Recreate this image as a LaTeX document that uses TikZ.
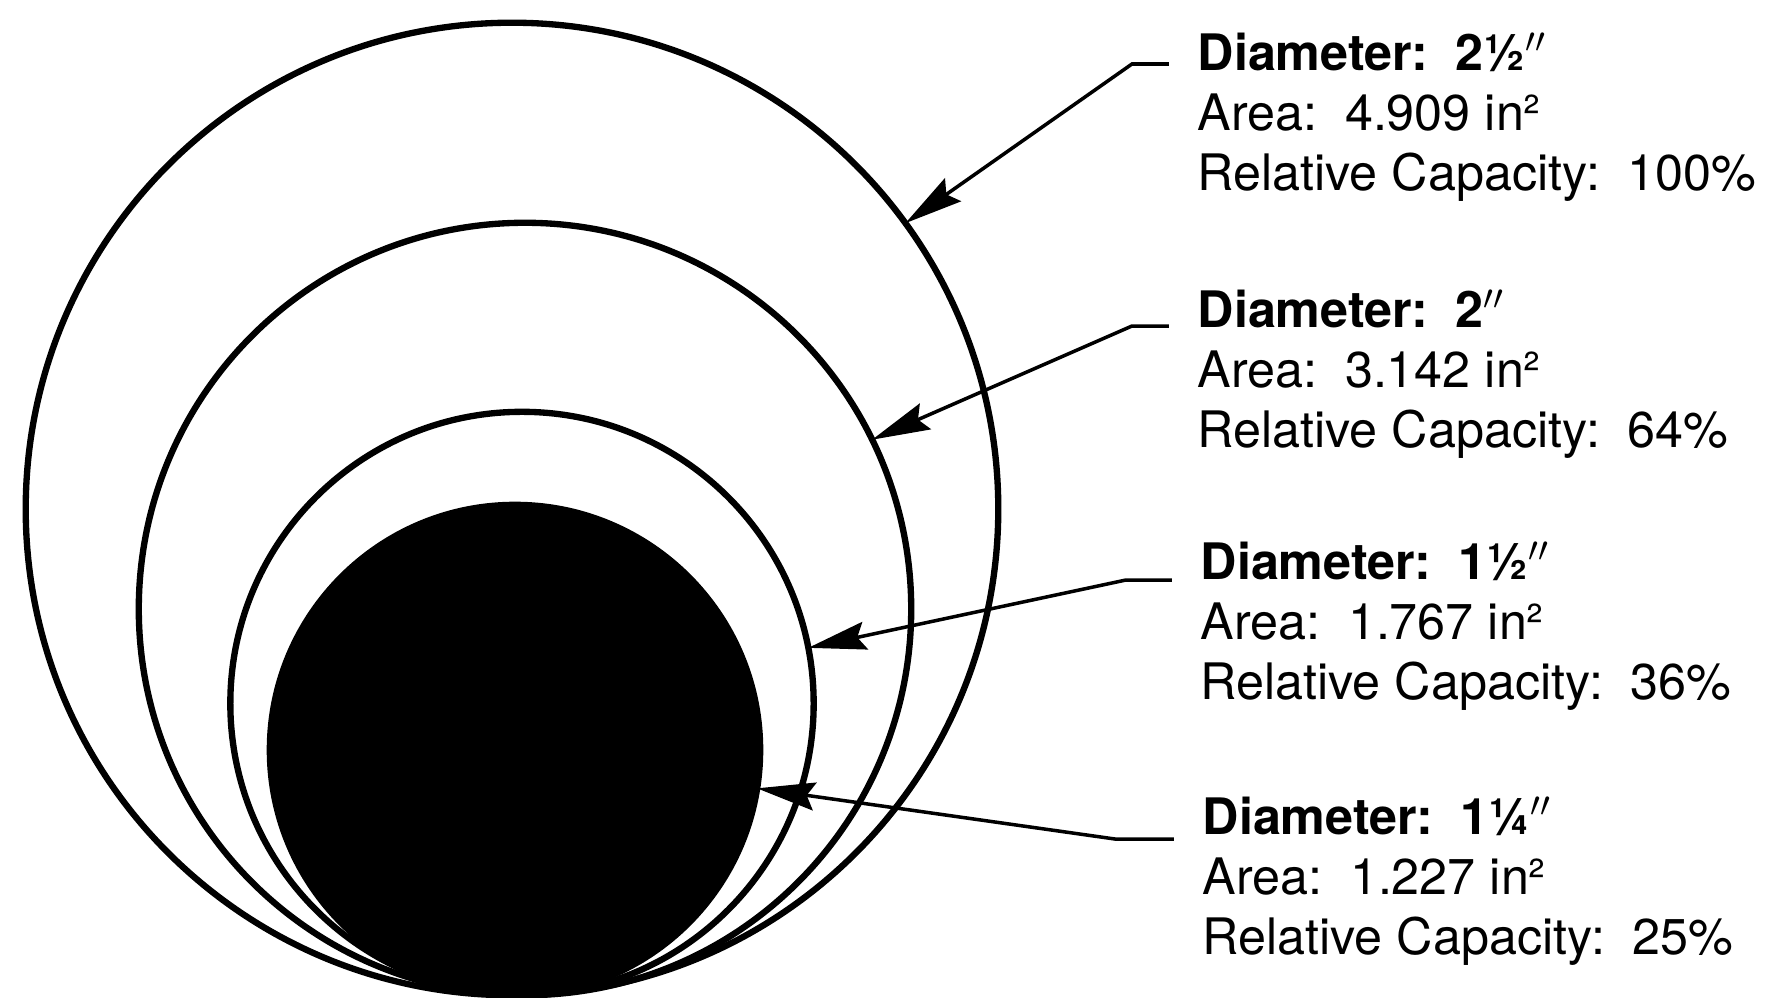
\documentclass[tikz,border=0pt]{standalone}
\usepackage{fontspec}
\setmainfont{TeX Gyre Heros}
\usetikzlibrary{arrows.meta}

\newcommand{\cgap}{\hspace{0.55em}}
\tikzset{
  ring/.style={circle,draw,line width=1.8pt,inner sep=0pt,outer sep=0pt},
  spec/.style={anchor=north west,align=left,inner sep=0pt,font=\fontsize{14.3}{17}\selectfont},
  leader/.style={->,line width=1pt},
}

\begin{document}
\begin{tikzpicture}[x=0.01cm,y=-0.01cm,>={Stealth[length=5.8mm,width=2.8mm,inset=0.8mm]}]
  \useasboundingbox (0,0) rectangle (1775,998);
  % pipe sections, all touching at the bottom
  \node[ring,minimum size=9.72cm] (c1) at (512,509) {};
  \node[ring,minimum size=7.72cm] (c2) at (525,609) {};
  \node[ring,minimum size=5.83cm] (c3) at (522,703.5) {};
  \node[ring,fill=black,minimum size=4.9cm] (c4) at (515,750) {};
  % labels
  \node[spec] (d1) at (1197,32) {\textbf{Diameter:\cgap 2½$''$}\\Area:\cgap 4.909 in²\\Relative Capacity:\cgap 100\%};
  \node[spec] (d2) at (1197,289) {\textbf{Diameter:\cgap 2$''$}\\Area:\cgap 3.142 in²\\Relative Capacity:\cgap 64\%};
  \node[spec] (d3) at (1200,541) {\textbf{Diameter:\cgap 1½$''$}\\Area:\cgap 1.767 in²\\Relative Capacity:\cgap 36\%};
  \node[spec] (d4) at (1202,796) {\textbf{Diameter:\cgap 1¼$''$}\\Area:\cgap 1.227 in²\\Relative Capacity:\cgap 25\%};
  % leaders
  \draw[leader] ([shift={(-0.28cm,-0.32cm)}]d1.north west) -- ++(-0.37cm,0) -- (c1.36);
  \draw[leader] ([shift={(-0.28cm,-0.37cm)}]d2.north west) -- ++(-0.37cm,0) -- (c2.26);
  \draw[leader] ([shift={(-0.28cm,-0.39cm)}]d3.north west) -- ++(-0.46cm,0) -- (c3.11);
  \draw[leader] ([shift={(-0.28cm,-0.43cm)}]d4.north west) -- ++(-0.59cm,0) -- (c4.-9);
\end{tikzpicture}
\end{document}
